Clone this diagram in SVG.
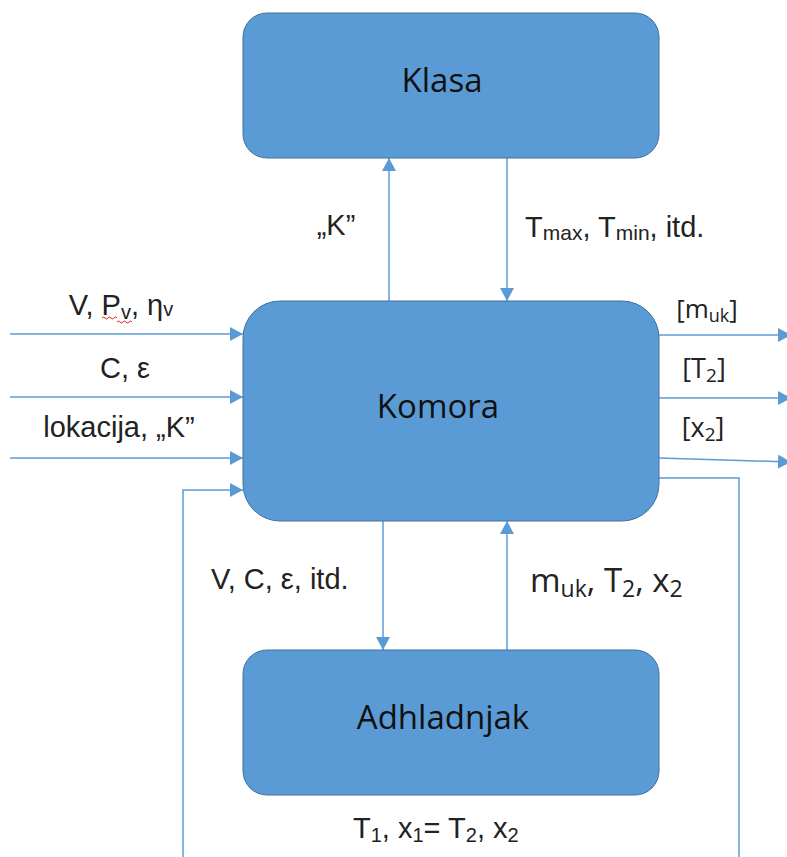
<svg xmlns="http://www.w3.org/2000/svg" width="787" height="857" viewBox="0 0 787 857">
<defs>
<style>
.box{fill:#5B9BD5;stroke:#41719C;stroke-width:1}
.bt{font-family:"Open Sans","Liberation Sans",sans-serif;font-size:33px;fill:#111;text-anchor:middle}
.ln{fill:none;stroke:#5B9BD5;stroke-width:1.5}
.ar{marker-end:url(#ah)}
.lb{font-family:"Liberation Sans",Arial,sans-serif;font-size:29px;fill:#222}
.lc{font-family:"Open Sans","Liberation Sans",sans-serif;fill:#222}
.sub{font-size:20px}
</style>
<marker id="ah" viewBox="0 0 13 14" refX="13" refY="7" markerWidth="13" markerHeight="14" markerUnits="userSpaceOnUse" orient="auto">
<path d="M0,0 L13,7 L0,14 z" fill="#5B9BD5"/>
</marker>
</defs>
<rect width="787" height="857" fill="#FFFFFF"/>

<g id="connectors">
<line class="ln ar" x1="389" y1="301" x2="389" y2="158"/>
<line class="ln ar" x1="507" y1="158" x2="507" y2="301"/>
<line class="ln ar" x1="383" y1="521" x2="383" y2="650"/>
<line class="ln ar" x1="507" y1="650" x2="507" y2="521"/>
<line class="ln ar" x1="10" y1="334" x2="243" y2="334"/>
<line class="ln ar" x1="10" y1="397" x2="243" y2="397"/>
<line class="ln ar" x1="10" y1="458" x2="243" y2="458"/>
<path class="ln ar" d="M183,857 V490 H243"/>
<line class="ln ar" x1="659" y1="335" x2="791" y2="335"/>
<line class="ln ar" x1="659" y1="398" x2="791" y2="398"/>
<line class="ln ar" x1="659" y1="458" x2="791" y2="462"/>
<path class="ln" d="M659,478 H739 V857"/>
</g>

<g id="klasa">
<rect class="box" x="243" y="13" width="416" height="145" rx="24" ry="24"/>
<text class="bt" x="442" y="92">Klasa</text>
</g>

<g id="komora">
<rect class="box" x="243" y="301" width="416" height="220" rx="37" ry="37"/>
<text class="bt" x="438" y="418">Komora</text>
</g>

<g id="adhladnjak">
<rect class="box" x="243" y="650" width="416" height="145" rx="24" ry="24"/>
<text class="bt" x="443" y="729">Adhladnjak</text>
</g>

<g id="labels">
<text class="lb" x="121" y="315" text-anchor="middle">V, P<tspan class="sub" dy="4">v</tspan><tspan dy="-4">, η</tspan><tspan class="sub" dy="1">v</tspan></text>
<path d="M102,318 q1.5,-2 3,0 t3,0 t3,0 t3,0 t3,0 M117,322 q1.5,-2 3,0 t3,0 t3,0 t3,0 t3,0" fill="none" stroke="#E02020" stroke-width="1"/>
<text class="lb" x="125" y="378" text-anchor="middle">C, ε</text>
<text class="lb" x="119" y="437" text-anchor="middle">lokacija, „K”</text>

<text class="lb" x="336" y="235" text-anchor="middle">„K”</text>
<text class="lb" x="525" y="237">T<tspan style="font-size:21px" dy="3">max</tspan><tspan dy="-3">, T</tspan><tspan style="font-size:21px" dy="3">min</tspan><tspan dy="-3">, itd.</tspan></text>

<text class="lc" x="707" y="318" text-anchor="middle" font-size="26">[m<tspan font-size="18" dy="4">uk</tspan><tspan dy="-4">]</tspan></text>
<text class="lc" x="704" y="378" text-anchor="middle" font-size="27">[T<tspan font-size="19" dy="4">2</tspan><tspan dy="-4">]</tspan></text>
<text class="lc" x="703" y="437" text-anchor="middle" font-size="27">[x<tspan font-size="19" dy="4">2</tspan><tspan dy="-4">]</tspan></text>

<text class="lb" x="211" y="589">V, C, ε, itd.</text>
<text class="lc" x="530" y="592" font-size="33">m<tspan font-size="23" dy="5">uk</tspan><tspan dy="-5">, T</tspan><tspan font-size="23" dy="5">2</tspan><tspan dy="-5">, x</tspan><tspan font-size="23" dy="5">2</tspan></text>

<text class="lb" x="353" y="838">T<tspan class="sub" dy="4">1</tspan><tspan dy="-4">, x</tspan><tspan class="sub" dy="4">1</tspan><tspan dy="-4">= T</tspan><tspan class="sub" dy="4">2</tspan><tspan dy="-4">, x</tspan><tspan class="sub" dy="4">2</tspan></text>
</g>
</svg>
